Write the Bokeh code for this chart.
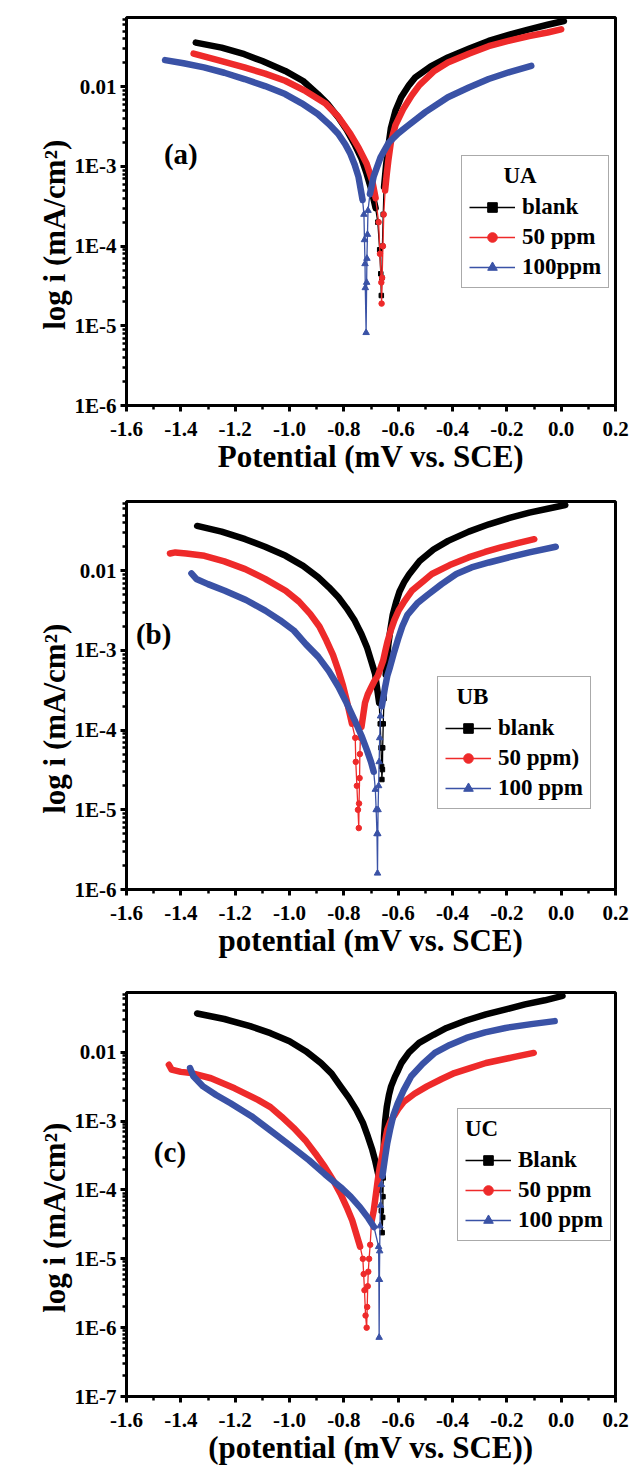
from bokeh.plotting import figure
from bokeh.models import Range1d, FixedTicker, PrintfTickFormatter, Legend, LegendItem, Label
from bokeh.layouts import column
from bokeh.embed import file_html
from bokeh.resources import INLINE

FONT = "Liberation Serif"
BLACK = "#000000"
RED = "#ee2a2a"
BLUE = "#3a52a6"

X_TICKS = [-1.6, -1.4, -1.2, -1.0, -0.8, -0.6, -0.4, -0.2, 0.0, 0.2]
X_MINOR = [-1.5, -1.3, -1.1, -0.9, -0.7, -0.5, -0.3, -0.1, 0.1]
Y_TICKS_AB = [1e-6, 1e-5, 1e-4, 1e-3, 1e-2]
Y_LABELS_AB = ["1E-6", "1E-5", "1E-4", "1E-3", "0.01"]
Y_TICKS_C = [1e-7, 1e-6, 1e-5, 1e-4, 1e-3, 1e-2]
Y_LABELS_C = ["1E-7", "1E-6", "1E-5", "1E-4", "1E-3", "0.01"]
Y_TOP = 0.074

# ---------------- panel (a) : UA ----------------
UA_BLANK_CATH = [(-1.345, 0.0358), (-1.25, 0.031), (-1.166, 0.0256), (-1.10, 0.021), (-1.016, 0.0158),
                 (-0.95, 0.0118), (-0.896, 0.0081), (-0.86, 0.0061), (-0.821, 0.00414), (-0.79, 0.0029),
                 (-0.761, 0.00192), (-0.735, 0.00125), (-0.716, 0.00081), (-0.698, 0.0005), (-0.683, 0.0003)]
UA_BLANK_SPIKE = [(-0.675, 2.0e-4), (-0.668, 9e-5), (-0.664, 4.5e-5), (-0.662, 2.4e-5), (-0.660, 4e-5),
                  (-0.658, 1e-4), (-0.655, 2.5e-4)]
UA_BLANK_ANOD = [(-0.652, 5.5e-4), (-0.645, 1e-3), (-0.636, 1.8e-3), (-0.627, 3.0e-3), (-0.61, 5e-3),
                 (-0.589, 7.4e-3), (-0.56, 0.0105), (-0.537, 0.0131), (-0.48, 0.018), (-0.417, 0.0233),
                 (-0.34, 0.030), (-0.267, 0.0376), (-0.19, 0.045), (-0.118, 0.0526), (-0.05, 0.060),
                 (0.01, 0.0668)]

UA_50_CATH = [(-1.353, 0.0261), (-1.26, 0.0215), (-1.166, 0.0175), (-1.09, 0.0146), (-1.016, 0.0119),
              (-0.94, 0.0088), (-0.866, 0.0061), (-0.82, 0.0042), (-0.776, 0.00257), (-0.745, 0.0017),
              (-0.716, 0.00108), (-0.695, 6.5e-4), (-0.683, 4.0e-4)]
UA_50_SPIKE = [(-0.672, 2e-4), (-0.667, 8e-5), (-0.662, 3.5e-5), (-0.661, 1.9e-5), (-0.659, 4e-5),
               (-0.656, 1e-4), (-0.653, 2.5e-4)]
UA_50_ANOD = [(-0.648, 5e-4), (-0.642, 8e-4), (-0.636, 1.2e-3), (-0.627, 2.0e-3), (-0.61, 3.3e-3),
              (-0.582, 5.2e-3), (-0.55, 7.8e-3), (-0.522, 0.0105), (-0.47, 0.0155), (-0.417, 0.0201),
              (-0.34, 0.026), (-0.267, 0.0323), (-0.19, 0.038), (-0.118, 0.0434), (-0.05, 0.048),
              (0.0, 0.0526)]

UA_100_CATH = [(-1.458, 0.0216), (-1.39, 0.0197), (-1.315, 0.0175), (-1.24, 0.015), (-1.166, 0.0125),
               (-1.09, 0.0102), (-1.016, 0.0081), (-0.955, 0.0062), (-0.896, 0.00455), (-0.855, 0.0034),
               (-0.821, 0.00257), (-0.795, 0.0019), (-0.776, 0.00144), (-0.76, 0.00105), (-0.746, 7.4e-4),
               (-0.731, 3.8e-4)]
UA_100_SPIKE = [(-0.726, 2.5e-4), (-0.724, 1.2e-4), (-0.722, 6e-5), (-0.721, 3e-5), (-0.718, 8.2e-6),
                (-0.716, 3.5e-5), (-0.715, 7e-5), (-0.713, 1.4e-4), (-0.711, 2.8e-4)]
UA_100_ANOD = [(-0.704, 4.5e-4), (-0.69, 7.5e-4), (-0.665, 1.3e-3), (-0.634, 2.0e-3), (-0.60, 2.6e-3),
               (-0.567, 3.2e-3), (-0.50, 4.8e-3), (-0.417, 7.4e-3), (-0.34, 9.8e-3), (-0.267, 0.0125),
               (-0.19, 0.0153), (-0.110, 0.0183)]

# ---------------- panel (b) : UB ----------------
UB_BLANK_CATH = [(-1.340, 0.0365), (-1.25, 0.031), (-1.163, 0.0249), (-1.09, 0.020), (-1.014, 0.0154),
                 (-0.95, 0.0115), (-0.894, 0.00826), (-0.855, 0.0062), (-0.820, 0.00464), (-0.79, 0.0034),
                 (-0.760, 0.00237), (-0.735, 0.0016), (-0.715, 0.0011), (-0.70, 7.5e-4), (-0.685, 5.1e-4),
                 (-0.670, 2.2e-4)]
UB_BLANK_SPIKE = [(-0.666, 1.2e-4), (-0.663, 6e-5), (-0.661, 3.5e-5), (-0.660, 2.4e-5), (-0.658, 3.2e-5),
                  (-0.657, 6e-5), (-0.655, 1.2e-4), (-0.652, 2.5e-4)]
UB_BLANK_ANOD = [(-0.646, 5e-4), (-0.641, 8e-4), (-0.636, 1.2e-3), (-0.628, 1.9e-3), (-0.620, 2.8e-3),
                 (-0.608, 4e-3), (-0.595, 5.5e-3), (-0.578, 7.2e-3), (-0.560, 9e-3), (-0.521, 0.0133),
                 (-0.47, 0.0185), (-0.416, 0.0237), (-0.34, 0.031), (-0.266, 0.0383), (-0.19, 0.046),
                 (-0.117, 0.0537), (-0.05, 0.060), (0.015, 0.0668)]

UB_50_CATH = [(-1.44, 0.0165), (-1.42, 0.0170), (-1.38, 0.0165), (-1.313, 0.0154), (-1.24, 0.0131),
              (-1.163, 0.0105), (-1.09, 0.0079), (-1.014, 0.00562), (-0.965, 0.0041), (-0.924, 0.00288),
              (-0.89, 0.002), (-0.864, 0.00133), (-0.84, 8.8e-4), (-0.820, 5.6e-4), (-0.803, 3.6e-4),
              (-0.790, 2.4e-4), (-0.770, 1.2e-4)]
UB_50_SPIKE = [(-0.758, 8e-5), (-0.756, 4e-5), (-0.752, 2e-5), (-0.748, 1e-5), (-0.745, 5.9e-6),
               (-0.744, 1.2e-5), (-0.742, 2.5e-5), (-0.741, 5e-5), (-0.739, 8e-5)]
UB_50_ANOD = [(-0.735, 1.1e-4), (-0.728, 1.6e-4), (-0.722, 2.2e-4), (-0.712, 2.8e-4), (-0.700, 3.4e-4),
              (-0.688, 4.1e-4), (-0.675, 4.8e-4), (-0.665, 6e-4), (-0.655, 7.5e-4), (-0.647, 1e-3),
              (-0.639, 1.3e-3), (-0.627, 1.8e-3), (-0.614, 2.4e-3), (-0.598, 3.2e-3), (-0.580, 4e-3),
              (-0.55, 5.6e-3), (-0.51, 7.3e-3), (-0.476, 9.1e-3), (-0.41, 0.0118), (-0.341, 0.0147),
              (-0.28, 0.0172), (-0.222, 0.0196), (-0.16, 0.0222), (-0.099, 0.0249)]

UB_100_CATH = [(-1.361, 0.00926), (-1.343, 0.0079), (-1.30, 0.0068), (-1.238, 0.00562), (-1.16, 0.0043),
               (-1.089, 0.00316), (-1.035, 0.0024), (-0.984, 0.00178), (-0.94, 0.0012), (-0.894, 8.3e-4),
               (-0.855, 5.5e-4), (-0.820, 3.5e-4), (-0.79, 2.2e-4), (-0.760, 1.33e-4), (-0.735, 8.5e-5),
               (-0.715, 5.6e-5), (-0.700, 4e-5), (-0.690, 3e-5)]
UB_100_SPIKE = [(-0.684, 1.8e-5), (-0.681, 1e-5), (-0.678, 5e-6), (-0.676, 1.6e-6), (-0.675, 5e-6),
                (-0.674, 1e-5), (-0.672, 2e-5), (-0.670, 4e-5), (-0.668, 8e-5), (-0.665, 1.5e-4)]
UB_100_ANOD = [(-0.660, 2e-4), (-0.648, 3.5e-4), (-0.64, 4.8e-4), (-0.630, 6.2e-4), (-0.615, 9.5e-4),
               (-0.600, 1.4e-3), (-0.585, 2e-3), (-0.566, 2.8e-3), (-0.53, 3.9e-3), (-0.491, 5e-3),
               (-0.44, 6.8e-3), (-0.386, 9.1e-3), (-0.33, 0.011), (-0.266, 0.0127), (-0.19, 0.0148),
               (-0.117, 0.017), (-0.020, 0.02)]

# ---------------- panel (c) : UC ----------------
UC_BLANK_CATH = [(-1.340, 0.0367), (-1.24, 0.0305), (-1.145, 0.024), (-1.07, 0.019), (-1.0, 0.0145),
                 (-0.94, 0.0104), (-0.884, 0.00698), (-0.845, 0.0049), (-0.812, 0.0032), (-0.782, 0.0022),
                 (-0.754, 0.00146), (-0.73, 9.5e-4), (-0.711, 5.9e-4), (-0.695, 3.8e-4), (-0.685, 2.7e-4),
                 (-0.672, 1.6e-4)]
UC_BLANK_SPIKE = [(-0.666, 1e-4), (-0.662, 5e-5), (-0.659, 2.4e-5), (-0.657, 4e-5), (-0.656, 8e-5),
                  (-0.655, 1.5e-4)]
UC_BLANK_ANOD = [(-0.654, 3e-4), (-0.652, 6e-4), (-0.648, 1e-3), (-0.642, 1.6e-3), (-0.634, 2.4e-3),
                 (-0.626, 3.2e-3), (-0.612, 4.4e-3), (-0.600, 5.5e-3), (-0.588, 7e-3), (-0.56, 0.010),
                 (-0.523, 0.0137), (-0.47, 0.018), (-0.422, 0.0226), (-0.35, 0.029), (-0.277, 0.0355),
                 (-0.20, 0.0425), (-0.133, 0.0497), (-0.06, 0.057), (0.005, 0.066)]

UC_50_CATH = [(-1.444, 6.6e-3), (-1.434, 5.6e-3), (-1.40, 5.2e-3), (-1.361, 5.0e-3), (-1.289, 4.2e-3),
              (-1.202, 3.0e-3), (-1.116, 2.04e-3), (-1.07, 1.6e-3), (-1.029, 1.16e-3), (-0.985, 8e-4),
              (-0.942, 5.3e-4), (-0.905, 3.4e-4), (-0.870, 2.16e-4), (-0.84, 1.4e-4), (-0.812, 8.8e-5),
              (-0.79, 5.7e-5), (-0.769, 3.6e-5), (-0.740, 1.5e-5)]
UC_50_SPIKE = [(-0.730, 1e-5), (-0.727, 6e-6), (-0.724, 3.5e-6), (-0.720, 1.5e-6), (-0.716, 1e-6),
               (-0.714, 2e-6), (-0.712, 4e-6), (-0.710, 6.5e-6), (-0.707, 1e-5), (-0.703, 1.6e-5)]
UC_50_ANOD = [(-0.698, 3.5e-5), (-0.690, 5e-5), (-0.685, 7e-5), (-0.675, 1.4e-4), (-0.668, 2.1e-4),
              (-0.660, 3e-4), (-0.650, 4.8e-4), (-0.640, 7.5e-4), (-0.628, 1e-3), (-0.615, 1.2e-3),
              (-0.60, 1.5e-3), (-0.580, 1.9e-3), (-0.54, 2.5e-3), (-0.494, 3.2e-3), (-0.44, 4.1e-3),
              (-0.393, 5e-3), (-0.33, 6e-3), (-0.277, 7e-3), (-0.176, 8.5e-3), (-0.101, 9.8e-3)]

UC_100_CATH = [(-1.366, 5.9e-3), (-1.354, 4.5e-3), (-1.318, 3.2e-3), (-1.27, 2.4e-3), (-1.217, 1.82e-3),
               (-1.14, 1.18e-3), (-1.072, 7.4e-4), (-1.0, 4.5e-4), (-0.928, 2.7e-4), (-0.87, 1.7e-4),
               (-0.812, 1.1e-4), (-0.775, 8e-5), (-0.740, 5.6e-5), (-0.71, 3.9e-5), (-0.689, 2.9e-5)]
UC_100_SPIKE = [(-0.672, 1.5e-5), (-0.671, 5e-6), (-0.670, 7.2e-7), (-0.669, 5e-6), (-0.668, 1.3e-5),
                (-0.667, 3e-5), (-0.665, 6e-5), (-0.662, 1.2e-4)]
UC_100_ANOD = [(-0.658, 1.6e-4), (-0.648, 3e-4), (-0.640, 4.8e-4), (-0.630, 7.5e-4), (-0.618, 1.2e-3),
               (-0.602, 1.8e-3), (-0.58, 2.8e-3), (-0.552, 4.5e-3), (-0.51, 6.8e-3), (-0.465, 9.8e-3),
               (-0.41, 0.0128), (-0.349, 0.0162), (-0.28, 0.0195), (-0.205, 0.0226), (-0.11, 0.0257),
               (-0.024, 0.0284)]

NB = "\u00a0"


def minor_ticks(decades):
    out = []
    for d in decades:
        for m in range(2, 10):
            out.append(m * d)
    return out


def make_fig(height, top, frame_h, left, frame_w, y_ticks, y_labels, xlabel):
    width = 638
    p = figure(width=width, height=height, output_backend="svg", toolbar_location=None,
               x_range=Range1d(-1.6, 0.2), y_range=Range1d(y_ticks[0], Y_TOP), y_axis_type="log",
               min_border_left=left, min_border_right=width - left - frame_w,
               min_border_top=top, min_border_bottom=height - top - frame_h)
    p.grid.visible = False
    p.outline_line_color = "black"
    p.outline_line_width = 3
    p.outline_line_alpha = 1.0
    p.background_fill_color = "white"
    p.border_fill_color = "white"

    xa = p.xaxis[0]
    xa.ticker = FixedTicker(ticks=X_TICKS, minor_ticks=X_MINOR)
    xa.formatter = PrintfTickFormatter(format="%.1f")
    xa.axis_label = xlabel
    ya = p.yaxis[0]
    ya.ticker = FixedTicker(ticks=y_ticks, minor_ticks=minor_ticks(y_ticks))
    ya.major_label_overrides = {t: l for t, l in zip(y_ticks, y_labels)}
    ya.axis_label = "log i (mA/cm\u00b2)" + NB * 6
    for ax in (xa, ya):
        ax.axis_line_width = 3
        ax.axis_line_color = "black"
        ax.major_tick_line_color = "black"
        ax.minor_tick_line_color = "black"
        ax.major_tick_in = 0
        ax.major_tick_out = 6
        ax.minor_tick_in = 0
        ax.minor_tick_out = 4
        ax.major_tick_line_width = 3
        ax.minor_tick_line_width = 2.5
        ax.major_label_text_font = FONT
        ax.major_label_text_font_style = "bold"
        ax.major_label_text_font_size = "21px"
        ax.major_label_text_color = "black"
        ax.axis_label_text_font = FONT
        ax.axis_label_text_font_style = "bold"
        ax.axis_label_text_font_size = "31px"
        ax.axis_label_text_color = "black"
        ax.axis_label_standoff = 0
    xa.major_label_standoff = 10
    ya.major_label_standoff = 4
    return p


def draw_series(p, cath, spike, anod, color, marker, msize):
    for branch in (cath, anod):
        xs = [pt[0] for pt in branch]
        ys = [pt[1] for pt in branch]
        p.line(xs, ys, line_color=color, line_width=6.5, line_join="round", line_cap="round")
    path = [cath[-1]] + spike + [anod[0]]
    thin = p.line([pt[0] for pt in path], [pt[1] for pt in path], line_color=color, line_width=1.3)
    mk = p.scatter([pt[0] for pt in spike], [pt[1] for pt in spike], marker=marker, size=msize,
                   fill_color=color, line_color=color)
    return [thin, mk]


def add_legend(p, title, items, loc):
    leg = Legend(items=[LegendItem(label=lab, renderers=r) for lab, r in items], location=loc,
                 title=title)
    leg.border_line_color = "#555555"
    leg.border_line_width = 1.2
    leg.background_fill_color = "white"
    leg.background_fill_alpha = 1.0
    leg.padding = 7
    leg.margin = 0
    leg.spacing = 4
    leg.label_standoff = 7
    leg.glyph_width = 46
    leg.glyph_height = 24
    leg.label_height = 24
    leg.label_text_font = FONT
    leg.label_text_font_style = "bold"
    leg.label_text_font_size = "23px"
    leg.label_text_color = "black"
    leg.title_text_font = FONT
    leg.title_text_font_style = "bold"
    leg.title_text_font_size = "23px"
    leg.title_text_color = "black"
    leg.title_standoff = 5
    p.add_layout(leg)


def panel_label(p, x, y, text):
    p.add_layout(Label(x=x, y=y, text=text, text_font=FONT, text_font_style="bold",
                       text_font_size="29px", text_color="black",
                       text_align="center", text_baseline="middle"))


# (a)
pa = make_fig(480, 17, 388, 126, 489, Y_TICKS_AB, Y_LABELS_AB, "Potential (mV vs. SCE)")
ra1 = draw_series(pa, UA_BLANK_CATH, UA_BLANK_SPIKE, UA_BLANK_ANOD, BLACK, "square", 4.5)
ra2 = draw_series(pa, UA_50_CATH, UA_50_SPIKE, UA_50_ANOD, RED, "circle", 5.5)
ra3 = draw_series(pa, UA_100_CATH, UA_100_SPIKE, UA_100_ANOD, BLUE, "triangle", 6.5)
add_legend(pa, NB * 6 + "UA", [("blank", ra1), ("50 ppm", ra2), ("100ppm", ra3)], (335, 117))
panel_label(pa, -1.40, 1.44e-3, "(a)")

# (b)
pb = make_fig(480, 21, 389, 125, 490, Y_TICKS_AB, Y_LABELS_AB, "potential (mV vs. SCE)")
rb1 = draw_series(pb, UB_BLANK_CATH, UB_BLANK_SPIKE, UB_BLANK_ANOD, BLACK, "square", 4.5)
rb2 = draw_series(pb, UB_50_CATH, UB_50_SPIKE, UB_50_ANOD, RED, "circle", 5.5)
rb3 = draw_series(pb, UB_100_CATH, UB_100_SPIKE, UB_100_ANOD, BLUE, "triangle", 6.5)
add_legend(pb, NB * 2 + "UB", [("blank", rb1), ("50 ppm)", rb2), ("100 ppm", rb3)], (311, 80))
panel_label(pb, -1.50, 1.63e-3, "(b)")

# (c)
pc = make_fig(507, 32, 405, 116, 507, Y_TICKS_C, Y_LABELS_C, "(potential (mV vs. SCE))")
rc1 = draw_series(pc, UC_BLANK_CATH, UC_BLANK_SPIKE, UC_BLANK_ANOD, BLACK, "square", 4.5)
rc2 = draw_series(pc, UC_50_CATH, UC_50_SPIKE, UC_50_ANOD, RED, "circle", 5.5)
rc3 = draw_series(pc, UC_100_CATH, UC_100_SPIKE, UC_100_ANOD, BLUE, "triangle", 6.5)
add_legend(pc, "UC", [("Blank", rc1), ("50 ppm", rc2), ("100 ppm", rc3)], (331, 155))
panel_label(pc, -1.44, 3.6e-4, "(c)")

layout = column(pa, pb, pc, spacing=0)
open("out.html", "w").write(file_html(layout, INLINE))
